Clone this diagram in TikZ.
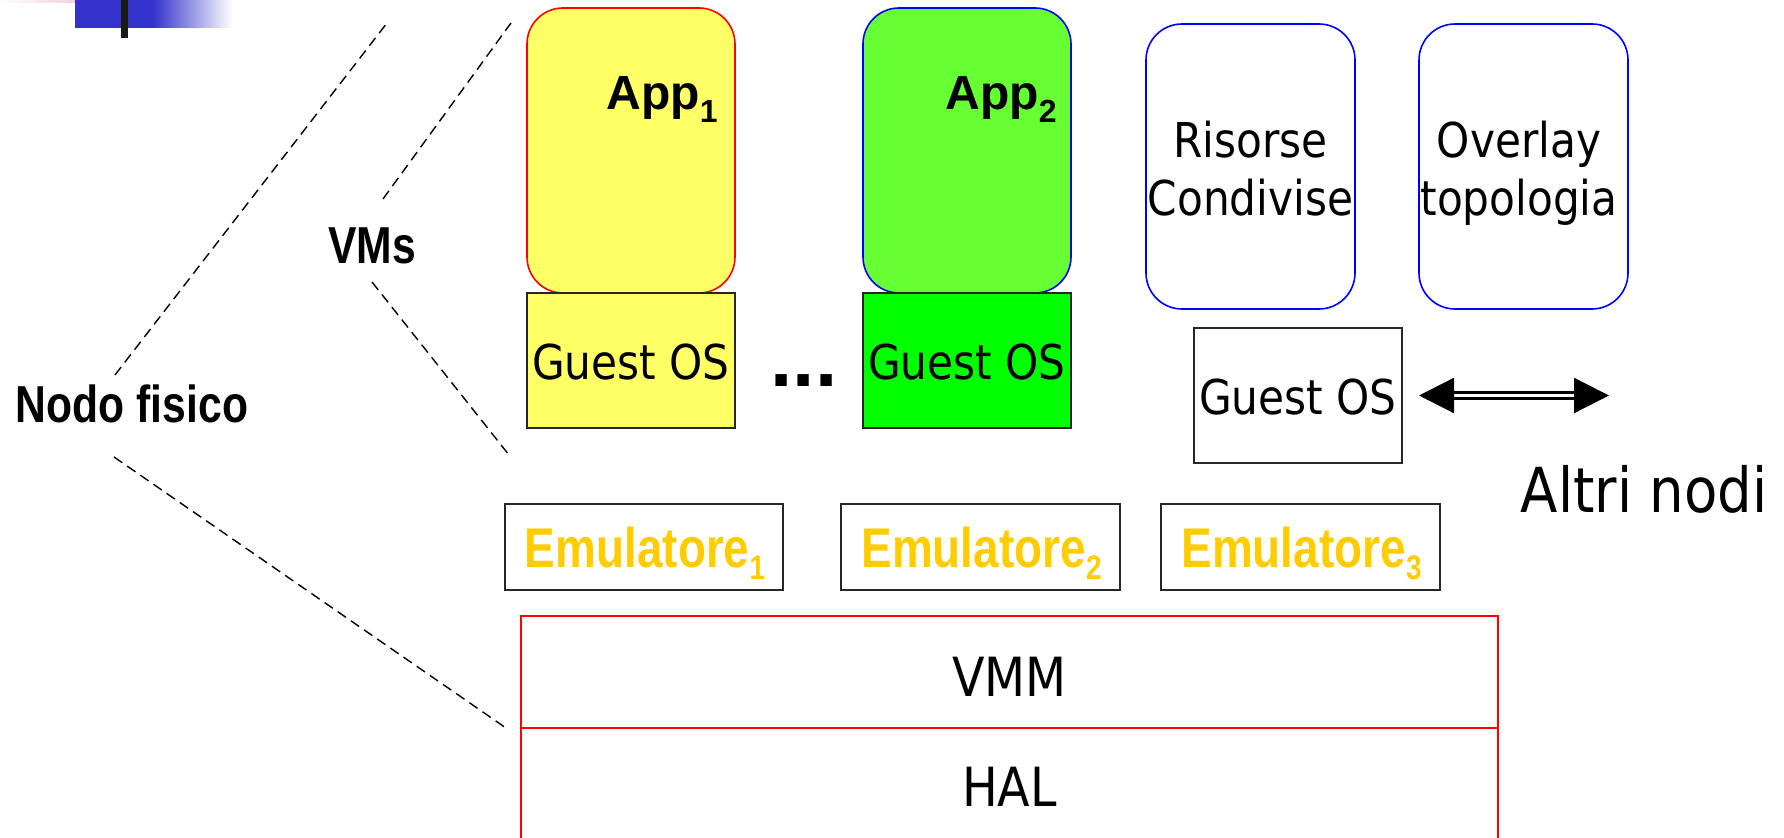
\documentclass[tikz,border=0pt]{standalone}
\usepackage{fontspec}
\setmainfont{DejaVu Sans}[FakeStretch=0.88]
\newfontfamily\headfont{Liberation Sans}[FakeStretch=0.82]
\newfontfamily\appfont{Liberation Sans}
\usetikzlibrary{fit,arrows.meta}

\definecolor{appyellow}{RGB}{255,255,102}
\definecolor{appgreen}{RGB}{102,255,51}
\definecolor{osgreen}{RGB}{0,255,0}
\definecolor{emugold}{RGB}{255,204,0}
\definecolor{barblue}{RGB}{51,51,204}
\definecolor{stripink}{RGB}{235,190,210}

% lowered index digits for labels such as App_1
\newcommand\appidx[1]{\raisebox{-6.5pt}{\fontsize{16}{18}\selectfont #1}}
\newcommand\emuidx[1]{\raisebox{-6pt}{\fontsize{17}{19}\selectfont #1}}

\tikzset{
  appbox/.style={rounded corners=18pt, line width=0.8pt, inner sep=0pt},
  osbox/.style={draw=black!85, line width=1pt, inner sep=0pt},
  layerbox/.style={draw=red, line width=0.8pt, inner sep=0pt},
  guide/.style={dash pattern=on 5pt off 3pt, line width=0.7pt},
  plain/.style={inner sep=0pt, font=\fontsize{24}{29}\selectfont},
  layertext/.style={inner sep=0pt, font=\fontsize{27}{31}\selectfont},
  apptext/.style={inner sep=0pt, font=\appfont\bfseries\fontsize{24}{28}\selectfont},
  emutext/.style={inner sep=0pt, text=emugold, font=\headfont\bfseries\fontsize{28}{32}\selectfont},
  headtext/.style={inner sep=0pt, font=\headfont\bfseries\fontsize{26}{30}\selectfont},
}

\begin{document}
\begin{tikzpicture}[x=0.5pt, y=-0.5pt]
\useasboundingbox (0,0) rectangle (1784,838);
\clip (0,0) rectangle (1784,838);

% title-bar ornament in the corner
\shade[left color=white, right color=stripink] (0,0) rectangle (105,2.5);
\fill[barblue] (75,0) rectangle (153,28);
\shade[left color=barblue, right color=white] (153,0) rectangle (232,28);
\fill[black!90] (121,0) rectangle (128,38);

% virtual machines
\node[appbox, draw=red, fill=appyellow, fit={(527,8) (735,293)}] (app1) {};
\node[osbox, fill=appyellow, fit={(527,293) (735,428)}] (os1) {};
\node[appbox, draw=blue, fill=appgreen, fit={(863,8) (1071,293)}] (app2) {};
\node[osbox, fill=osgreen, fit={(863,293) (1071,428)}] (os2) {};
\node[apptext, anchor=base east] (app1t) at (718,110) {App\appidx{1}};
\node[apptext, anchor=base east] (app2t) at (1057,110) {App\appidx{2}};
\node[plain, anchor=base] (os1t) at (631,380) {Guest OS};
\node[plain, anchor=base] (os2t) at (967,380) {Guest OS};
\node[inner sep=0pt, anchor=base, font=\appfont\bfseries\fontsize{40}{44}\selectfont] (dots) at (804,387) {...};

% shared services of the node
\node[appbox, draw=blue, fit={(1146,24) (1355,309)}] (ris) {};
\node[appbox, draw=blue, fit={(1419,24) (1628,309)}] (ovl) {};
\node[plain, align=center] (rist) at (1250.5,168.5) {Risorse\\Condivise};
\node[plain, align=center] (ovlt) at (1519,173.5) {Overlay\\topologia};
\node[osbox, fit={(1194,328) (1402,463)}] (os3) {};
\node[plain, anchor=base] (os3t) at (1298,415) {Guest OS};

% link towards the other nodes
\coordinate (far) at (1609,395.5);
\draw[double, line width=1.15pt, double distance=1.85pt, shorten <=8pt,
      {Triangle[length=17.5pt,width=17.5pt]}-{Triangle[length=17.5pt,width=17.5pt]}]
      (os3.east) -- (far);
\node[inner sep=0pt, anchor=base, font=\fontsize{31}{36}\selectfont] (altri) at (1644,513) {Altri nodi};

% emulators
\node[osbox, fit={(505,504) (783,590)}] (emu1) {};
\node[osbox, fit={(841,504) (1120,590)}] (emu2) {};
\node[osbox, fit={(1161,504) (1440,590)}] (emu3) {};
\node[emutext, anchor=base] (emu1t) at (645,568) {Emulatore\emuidx{1}};
\node[emutext, anchor=base] (emu2t) at (981.5,568) {Emulatore\emuidx{2}};
\node[emutext, anchor=base] (emu3t) at (1301.5,568) {Emulatore\emuidx{3}};

% monitor and hardware abstraction layers
\node[layerbox, fit={(521,616) (1498,728)}] (vmm) {};
\node[layerbox, fit={(521,728) (1498,870)}] (hal) {};
\node[layertext, anchor=base] (vmmt) at (1009.5,697) {VMM};
\node[layertext, anchor=base] (halt) at (1009.5,807) {HAL};

% side labels with their dashed guides
\node[headtext, anchor=base] (vms) at (372,264) {VMs};
\node[headtext, anchor=base] (nodo) at (132,423) {Nodo fisico};
\coordinate (g1a) at (115,375); \coordinate (g1b) at (387,23);
\coordinate (g2a) at (383,199); \coordinate (g2b) at (511,23);
\coordinate (g3a) at (372,282); \coordinate (g3b) at (509,455);
\coordinate (g4a) at (114,457); \coordinate (g4b) at (506,728);
\draw[guide] (g1a) -- (g1b);
\draw[guide] (g2a) -- (g2b);
\draw[guide] (g3a) -- (g3b);
\draw[guide] (g4a) -- (g4b);
\end{tikzpicture}
\end{document}
